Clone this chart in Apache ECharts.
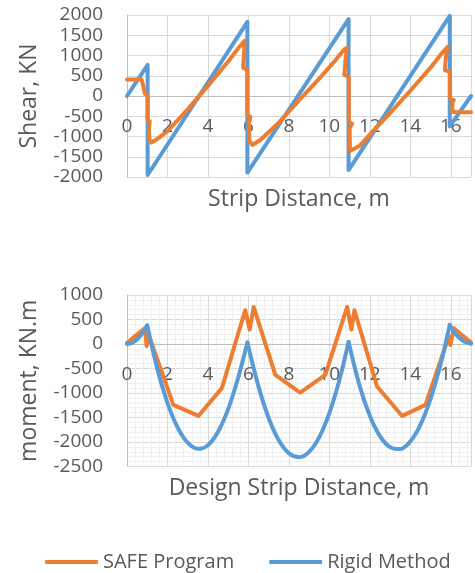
<!DOCTYPE html>
<html>
<head>
<meta charset="utf-8">
<script src="https://cdn.jsdelivr.net/npm/echarts@6/dist/echarts.min.js"></script>
<style>
html,body{margin:0;padding:0;background:#fff;}
#c{width:475px;height:573px;}
</style>
</head>
<body>
<div id="c"></div>
<script>
// ---- data ----
const seriesNames = ['SAFE Program', 'Rigid Method'];

// Shear (kN) vs strip distance (m)
const safeShear = [
  [0,410],[0.72,410],[0.78,380],[0.83,200],[0.88,60],[0.95,45],[1.02,30],[1.02,-590],[1.12,-620],[1.08,-850],[1.12,-1100],[1.2,-1150],
  [1.5,-1060],[2,-870],[3,-330],[4,250],[5,850],[5.5,1180],[5.8,1360],[5.88,1386],[5.8,1150],[5.74,700],[5.95,640],[5.95,-470],[6.1,-510],[6.02,-680],[6.05,-1100],[6.2,-1210],
  [6.6,-1080],[7.5,-660],[8.5,-110],[9.5,430],[10.3,880],[10.7,1130],[10.87,1196],[10.8,900],[10.74,520],[10.96,480],[10.96,-640],[11.12,-680],[11.0,-800],[11.02,-1360],[11.1,-1400],
  [11.5,-1230],[12,-950],[13,-420],[14,130],[15,700],[15.5,1020],[15.83,1205],[15.75,900],[15.71,640],[15.96,600],[15.96,-60],[16.15,-100],[16.08,-150],[16.08,-390],[16.3,-400],[17,-400]
];
const rigidShear = [
  [0,0],[1.02,770],[1.02,-1950],[5.95,1830],[5.95,-1890],[10.95,1900],[10.95,-1830],[15.95,1980],[15.95,-750],[17,0]
];

// Moment (kN.m) vs design strip distance (m)
const safeMoment = [
  [0,20],[0.48,190],[0.89,327],[0.97,-40],[1.06,200],[2.29,-1243],[3.53,-1468],[4.69,-901],[5.84,688],[6.06,293],[6.26,757],
  [7.33,-628],[8.56,-990],[9.8,-628],[10.88,757],[11.09,293],[11.24,688],[12.36,-867],[13.6,-1468],[14.75,-1243],
  [15.9,150],[15.98,-20],[16.15,320],[17,30]
];
const rigidMoment = [
  [0,0],[0.25,24],[0.5,96],[0.75,215],[1,380],
  [1.5,-510],[2,-1200],[2.5,-1700],[3,-2015],[3.5,-2140],[4,-2065],[4.5,-1790],[5,-1330],[5.5,-680],[5.95,30],
  [6.5,-870],[7,-1510],[7.5,-1965],[8,-2230],[8.5,-2310],[9,-2200],[9.5,-1900],[10,-1410],[10.5,-730],[10.95,40],
  [11.5,-860],[12,-1465],[12.5,-1880],[13,-2105],[13.5,-2145],[14,-1990],[14.5,-1650],[15,-1120],[15.5,-410],[15.95,390],
  [16.25,200],[16.5,100],[16.75,35],[17,5]
];
// column positions where the rigid moment diagram has cusps
const columnX = [1, 5.95, 10.95, 15.95];

// axis ranges
const xRange = [0, 17, 2];
const shearRange = [-2000, 2000, 500];
const momentRange = [-2500, 1000, 500];

// ---- styling ----
const ORANGE = '#ED7D31';
const BLUE = '#5B9BD5';
const TXT = '#595959';
const GRID = '#d9d9d9';
const AXIS = '#bfbfbf';
const FONT = 'Open Sans';

function xAxisCfg(gi, name, offset, gap, minor) {
  return {
    gridIndex: gi, type: 'value', min: xRange[0], max: xRange[1], interval: xRange[2],
    position: 'bottom', offset: offset,
    axisLine: { show: true, onZero: false, lineStyle: { color: AXIS, width: 1 } },
    axisTick: { show: false },
    minorTick: { show: false, splitNumber: 5 },
    minorSplitLine: { show: minor, lineStyle: { color: '#f0f0f0', width: 1 } },
    axisLabel: { showMaxLabel: false, fontSize: 19, color: TXT, margin: 21, fontFamily: FONT },
    splitLine: { show: true, lineStyle: { color: GRID, width: 1 } },
    name: name, nameLocation: 'middle', nameGap: gap,
    nameTextStyle: { fontSize: 23, color: TXT, fontFamily: FONT }
  };
}
function yAxisCfg(gi, r, name, minor) {
  return {
    gridIndex: gi, type: 'value', min: r[0], max: r[1], interval: r[2],
    axisLine: { show: true, onZero: false, lineStyle: { color: AXIS, width: 1 } },
    axisTick: { show: false },
    minorTick: { show: false, splitNumber: 5 },
    minorSplitLine: { show: minor, lineStyle: { color: '#f0f0f0', width: 1 } },
    axisLabel: { fontSize: 19, color: TXT, margin: 24, fontFamily: FONT, formatter: v => String(v) },
    splitLine: { show: true, lineStyle: { color: GRID, width: 1 } },
    name: name, nameLocation: 'middle', nameGap: 86, nameRotate: 90,
    nameTextStyle: { fontSize: 23, color: TXT, fontFamily: FONT }
  };
}
function lineSeries(name, gi, data, color, z, smooth) {
  return {
    name: name, type: 'line', xAxisIndex: gi, yAxisIndex: gi, data: data,
    symbol: 'none', showSymbol: false, z: z, smooth: smooth || false,
    lineStyle: { color: color, width: 4, join: 'round', cap: 'round' },
    itemStyle: { color: color }
  };
}
// split the rigid moment into arcs between columns (cusps kept sharp)
function splitArcs(data, cuts) {
  const arcs = [];
  let cur = [];
  data.forEach(p => {
    cur.push(p);
    if (cuts.indexOf(p[0]) >= 0) { arcs.push(cur); cur = [p]; }
  });
  if (cur.length > 1) arcs.push(cur);
  return arcs;
}

const rigidArcs = splitArcs(rigidMoment, columnX);
const series = [
  lineSeries(seriesNames[1], 0, rigidShear, BLUE, 2),
  lineSeries(seriesNames[0], 0, safeShear, ORANGE, 3),
  lineSeries(seriesNames[0], 1, safeMoment, ORANGE, 2)
];
rigidArcs.forEach(a => series.push(lineSeries(seriesNames[1], 1, a, BLUE, 3, 0.35)));

const chart = echarts.init(document.getElementById('c'), null, { renderer: 'canvas' });
chart.setOption({
  animation: false,
  backgroundColor: '#fff',
  textStyle: { fontFamily: FONT },
  legend: {
    data: seriesNames, left: 40, top: 547, itemWidth: 53, itemHeight: 4, itemGap: 35,
    icon: 'roundRect',
    textStyle: { fontSize: 20, color: TXT, fontFamily: FONT }
  },
  grid: [
    { left: 127, top: 15, width: 344, height: 162, outerBoundsMode: 'none' },
    { left: 127, top: 295, width: 344, height: 171.5, outerBoundsMode: 'none' }
  ],
  xAxis: [
    xAxisCfg(0, 'Strip Distance, m', -81, 92, false),
    xAxisCfg(1, 'Design Strip Distance, m', -122.5, 133, true)
  ],
  yAxis: [
    yAxisCfg(0, shearRange, 'Shear, KN', false),
    yAxisCfg(1, momentRange, 'moment, KN.m', true)
  ],
  series: series
});
</script>
</body>
</html>
